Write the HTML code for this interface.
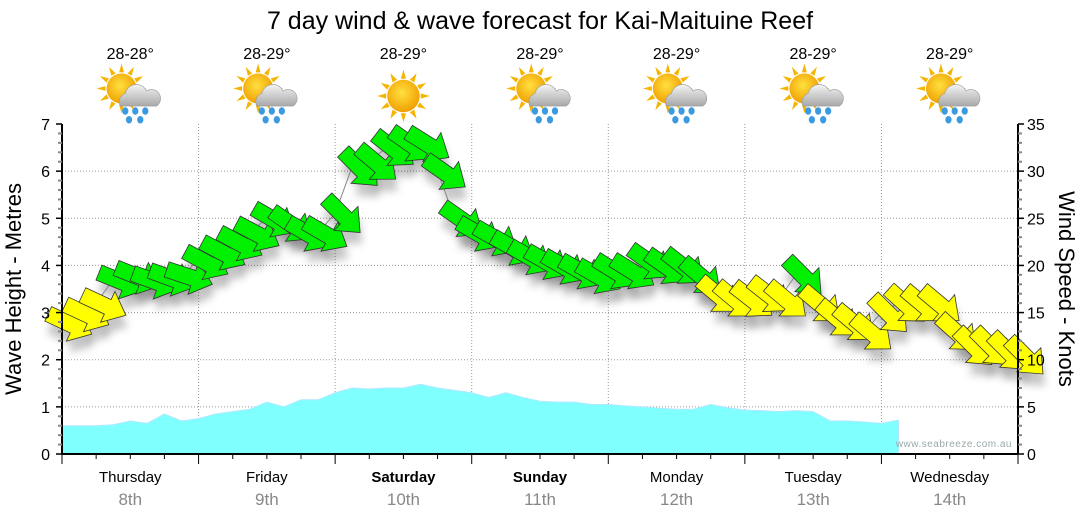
<!DOCTYPE html>
<html><head><meta charset="utf-8"><style>
html,body{margin:0;padding:0;background:#fff}
svg{display:block;font-family:"Liberation Sans",Tahoma,sans-serif}
</style></head><body>
<svg id="c" width="1080" height="522" viewBox="0 0 1080 522">
<defs>
<filter id="sh" x="-50%" y="-50%" width="200%" height="200%"><feGaussianBlur stdDeviation="4"/></filter>
<radialGradient id="sun" cx="0.45" cy="0.4" r="0.6"><stop offset="0" stop-color="#ffe040"/><stop offset="1" stop-color="#f0a000"/></radialGradient>
<linearGradient id="cloud" x1="0" y1="0" x2="0" y2="1"><stop offset="0" stop-color="#f4f4f4"/><stop offset="1" stop-color="#a8a8a8"/></linearGradient>
</defs>
<text x="540" y="29" text-anchor="middle" font-size="25" fill="#000">7 day wind &amp; wave forecast for Kai-Maituine Reef</text>
<g id="grid"></g><g id="wave"></g><g id="shadows" filter="url(#sh)"></g><g id="windline"></g><g id="arrows"></g><g id="axes"></g><g id="top"></g>
<text x="1012" y="447" text-anchor="end" font-size="10" fill="#9aa" letter-spacing="0.5">www.seabreeze.com.au</text>
<text transform="translate(21,289) rotate(-90)" text-anchor="middle" font-size="22">Wave Height - Metres</text>
<text transform="translate(1059,289) rotate(90)" text-anchor="middle" font-size="22">Wind Speed - Knots</text>
</svg>
<script>
const days=["Thursday","Friday","Saturday","Sunday","Monday","Tuesday","Wednesday"];
const dates=["8th","9th","10th","11th","12th","13th","14th"];
const boldDays=[false,false,true,true,false,false,false];
const temps=["28-28°","28-29°","28-29°","28-29°","28-29°","28-29°","28-29°"];
const rainy=[true,true,false,true,true,true,true];
const leftTicks=[0,1,2,3,4,5,6,7];
const rightTicks=[0,5,10,15,20,25,30,35];
const wave=[0.6,0.6,0.6,0.62,0.7,0.65,0.85,0.7,0.75,0.85,0.9,0.95,1.1,1.0,1.15,1.15,1.3,1.4,1.38,1.4,1.4,1.48,1.4,1.35,1.3,1.2,1.3,1.2,1.12,1.1,1.1,1.05,1.05,1.02,1.0,0.97,0.95,0.95,1.05,0.98,0.93,0.92,0.9,0.92,0.9,0.7,0.7,0.68,0.65,0.72];
const wind=[14,15,16,18.5,19,18.5,18.8,19,20.5,21.5,22.5,23.5,25,24.5,23.5,23.5,25.5,30.5,31,32.5,33,33,30,25,23.5,23,22,21,20.5,20,19.5,19,19.5,19.5,20.5,20,20,19,17,16.5,16.5,17,16.5,19,16,14.5,14,13,15,16,16,16,13,11.5,11.5,11,10.5];
const dirs=[25,25,25,22,22,20,20,18,28,28,28,28,30,35,30,30,45,45,40,38,35,32,35,35,30,30,30,30,30,30,30,30,32,32,35,35,38,40,40,40,38,38,40,45,40,40,40,40,45,42,40,40,42,45,45,45,45];
const X0=62,X1=1018,Y0=454,Y1=124;
const NS="http://www.w3.org/2000/svg";
const xi=i=>X0+i*(X1-X0)/56;
const ym=v=>Y0-v*(Y0-Y1)/7;
const yk=k=>ym(k/5);
function el(t,a,p){const e=document.createElementNS(NS,t);for(const k in a)e.setAttribute(k,a[k]);p.appendChild(e);return e;}
const G=id=>document.getElementById(id);
const dw=(X1-X0)/7;
for(let d=1;d<7;d++){const g=el('line',{x1:X0+d*dw,x2:X0+d*dw,y1:Y1,y2:Y0,stroke:'#999','stroke-dasharray':'1,2'},G('grid'));

}
leftTicks.forEach(v=>{if(v>0&&v<7){const g=el('line',{x1:X0,x2:X1,y1:ym(v),y2:ym(v),stroke:'#999','stroke-dasharray':'1,2'},G('grid'));

}});
let d='M'+xi(0)+','+Y0;
wave.forEach((v,i)=>{d+=' L'+xi(i)+','+ym(v);});
d+=' L'+xi(wave.length-1)+','+Y0+' Z';
const wa=el('path',{d:d,fill:'#80ffff',stroke:'#b0e8ff','stroke-width':1},G('wave'));


let ld='';wind.forEach((k,i)=>{ld+=(i?' L':'M')+xi(i)+','+yk(k);});
const wl=el('path',{d:ld,fill:'none',stroke:'#888','stroke-width':1},G('windline'));


const AP='M-24,-8 L4,-8 L4,-17 L24,0 L4,17 L4,8 L-24,8 Z';
wind.forEach((k,i)=>{
 const x=xi(i)+8,y=yk(k)+2,a=dirs[i];
 const s=el('path',{d:AP,fill:'#000',opacity:0.22,transform:`translate(${x+2},${y+12}) rotate(${a})`},G('shadows'));
 
 
 const p=el('path',{d:AP,fill:k>=17.5?'#00f000':'#ffff00',stroke:'#333','stroke-width':0.8,transform:`translate(${x},${y}) rotate(${a})`},G('arrows'));
 
 
});
const ax=G('axes');
el('line',{x1:X0,x2:X0,y1:Y1,y2:Y0,stroke:'#000','stroke-width':2},ax);
el('line',{x1:X1,x2:X1,y1:Y1,y2:Y0,stroke:'#000','stroke-width':2},ax);
el('line',{x1:X0,x2:X1,y1:Y0,y2:Y0,stroke:'#000','stroke-width':2},ax);
for(let m=0;m<=35;m++){const y=yk(m);const maj=m%5==0;
 el('line',{x1:X0-(maj?6:4),x2:X0,y1:y,y2:y,stroke:maj?'#000':'#888','stroke-width':maj?1.5:2},ax);
 el('line',{x1:X1,x2:X1+(maj?6:4),y1:y,y2:y,stroke:maj?'#000':'#888','stroke-width':maj?1.5:2},ax);}
leftTicks.forEach(v=>{const t=el('text',{x:50,y:ym(v)+6,'text-anchor':'end','font-size':16},ax);t.textContent=v;

});
rightTicks.forEach(v=>{const t=el('text',{x:1027,y:yk(v)+6,'font-size':16},ax);t.textContent=v;

});
for(let h=0;h<=28;h++){const x=X0+h*dw/4;el('line',{x1:x,x2:x,y1:Y0,y2:Y0+(h%4==0?10:5),stroke:'#000','stroke-width':1},ax);}
days.forEach((n,i)=>{const cx=X0+(i+0.5)*dw;
 const t=el('text',{x:cx,y:482,'text-anchor':'middle','font-size':15,'font-weight':boldDays[i]?'bold':'normal'},ax);t.textContent=n;
 
 
 const t2=el('text',{x:cx,y:505,'text-anchor':'middle','font-size':17,fill:'#888'},ax);t2.textContent=dates[i];
 
 
 const tt=el('text',{x:cx,y:59,'text-anchor':'middle','font-size':16},G('top'));tt.textContent=temps[i];
 
 
 const g=el('g',{transform:`translate(${cx},96) scale(1.25)`},G('top'));
 
 
 const sx=rainy[i]?-7:0,sy=rainy[i]?-6:0,r=rainy[i]?12:13;
 for(let a=0;a<360;a+=30){const rad=a*Math.PI/180;
  el('path',{d:`M${sx+Math.cos(rad-0.15)*(r+1)},${sy+Math.sin(rad-0.15)*(r+1)} L${sx+Math.cos(rad)*(r+8)},${sy+Math.sin(rad)*(r+8)} L${sx+Math.cos(rad+0.15)*(r+1)},${sy+Math.sin(rad+0.15)*(r+1)}Z`,fill:'#f5b400'},g);}
 el('circle',{cx:sx,cy:sy,r:r,fill:'url(#sun)'},g);
 if(rainy[i]){
  el('path',{d:'M-8,8 a7,7 0 0 1 4,-10 a9,9 0 0 1 17,-2 a7,7 0 0 1 8,12 Z',fill:'url(#cloud)',stroke:'#999','stroke-width':0.5},g);
  [[-4,12],[4,12],[12,12],[-1,19],[8,19]].forEach(q=>el('ellipse',{cx:q[0],cy:q[1],rx:2.5,ry:3,fill:'#3b9be0'},g));
 }
});
</script>
</body></html>
